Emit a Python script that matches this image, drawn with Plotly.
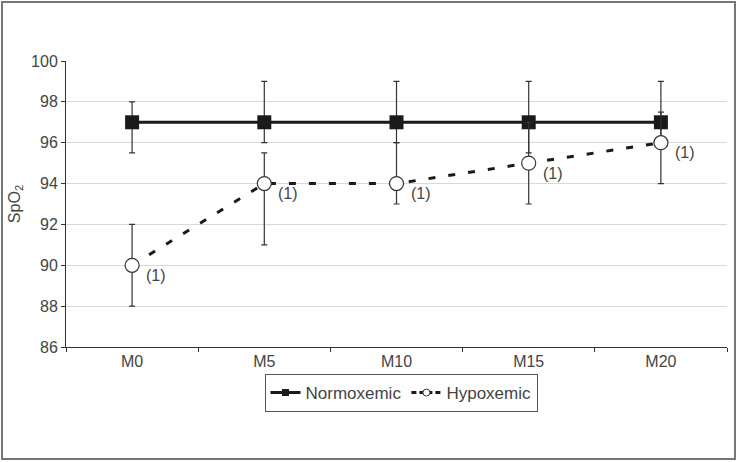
import plotly.graph_objects as go

categories = ["M0", "M5", "M10", "M15", "M20"]
normo = [97, 97, 97, 97, 97]
normo_plus = [1, 2, 2, 2, 2]
normo_minus = [1.5, 1, 1, 1.5, 1]
hypo = [90, 94, 94, 95, 96]
hypo_plus = [2, 1.5, 2, 2, 1.5]
hypo_minus = [2, 3, 1, 2, 2]
hypo_labels = ["(1)", "(1)", "(1)", "(1)", "(1)"]
y_ticks = [86, 88, 90, 92, 94, 96, 98, 100]

FONT = "Liberation Sans, Arial"
TXT = "#444444"

fig = go.Figure()
fig.add_trace(go.Scatter(
    x=categories, y=normo, name="Normoxemic", mode="lines+markers", showlegend=False,
    line=dict(color="#1a1a1a", width=3),
    marker=dict(symbol="square", size=14, color="#1a1a1a"),
    error_y=dict(type="data", symmetric=False, array=normo_plus, arrayminus=normo_minus,
                 color="#333333", thickness=1.2, width=3),
))
fig.add_trace(go.Scatter(
    x=categories, y=hypo, name="Hypoxemic", mode="lines+markers", showlegend=False,
    line=dict(color="#1a1a1a", width=3, dash="7px,13px"),
    marker=dict(symbol="circle", size=14, color="white", line=dict(color="#333333", width=1.2)),
    error_y=dict(type="data", symmetric=False, array=hypo_plus, arrayminus=hypo_minus,
                 color="#333333", thickness=1.2, width=3),
))
# legend entries with small symbols
fig.add_trace(go.Scatter(
    x=[None], y=[None], name="Normoxemic", mode="lines+markers",
    line=dict(color="#1a1a1a", width=3),
    marker=dict(symbol="square", size=7, color="#1a1a1a"),
))
fig.add_trace(go.Scatter(
    x=[None], y=[None], name="Hypoxemic", mode="lines+markers",
    line=dict(color="#1a1a1a", width=3, dash="5px,3px"),
    marker=dict(symbol="circle", size=7, color="white", line=dict(color="#333333", width=1)),
))
for c, v, t in zip(categories, hypo, hypo_labels):
    fig.add_annotation(x=c, y=v, text=t, showarrow=False, xshift=24, yshift=-10,
                       font=dict(family=FONT, size=16, color=TXT))

W, H = 737, 462
L, R, T, B = 66, 10, 61, 115
pw, ph = W - L - R, H - T - B
fig.add_shape(type="rect", xref="paper", yref="paper",
              x0=(2 - L) / pw, x1=(W - 2 - L) / pw,
              y0=(H - B - (H - 3)) / ph, y1=(H - B - 2) / ph,
              line=dict(color="#777777", width=2), layer="below")

fig.update_layout(
    width=W, height=H, margin=dict(l=L, r=R, t=T, b=B),
    plot_bgcolor="white", paper_bgcolor="white",
    font=dict(family=FONT, size=16, color=TXT),
    showlegend=True,
    legend=dict(orientation="h", x=(401 - L) / pw, xanchor="center", y=(H - B - 393) / ph, yanchor="middle",
                bordercolor="#555555", borderwidth=1, font=dict(family=FONT, size=17, color=TXT),
                itemwidth=30, tracegroupgap=0),
    xaxis=dict(type="category", range=[-0.5, 4.5], showgrid=False, showline=True,
               linecolor="#333333", linewidth=1, ticks="outside", tickson="boundaries",
               ticklen=4, tickcolor="#333333", tickfont=dict(family=FONT, size=16, color=TXT)),
    yaxis=dict(range=[86, 100], tickvals=y_ticks, showgrid=True, gridcolor="#d9d9d9",
               gridwidth=1, showline=True, linecolor="#333333", linewidth=1,
               ticks="outside", ticklen=4, tickcolor="#333333",
               tickfont=dict(family=FONT, size=16, color=TXT),
               title=dict(text="SpO<sub>2</sub>", font=dict(family=FONT, size=16, color=TXT), standoff=6),
               zeroline=False),
)
fig.write_html("out.html")
